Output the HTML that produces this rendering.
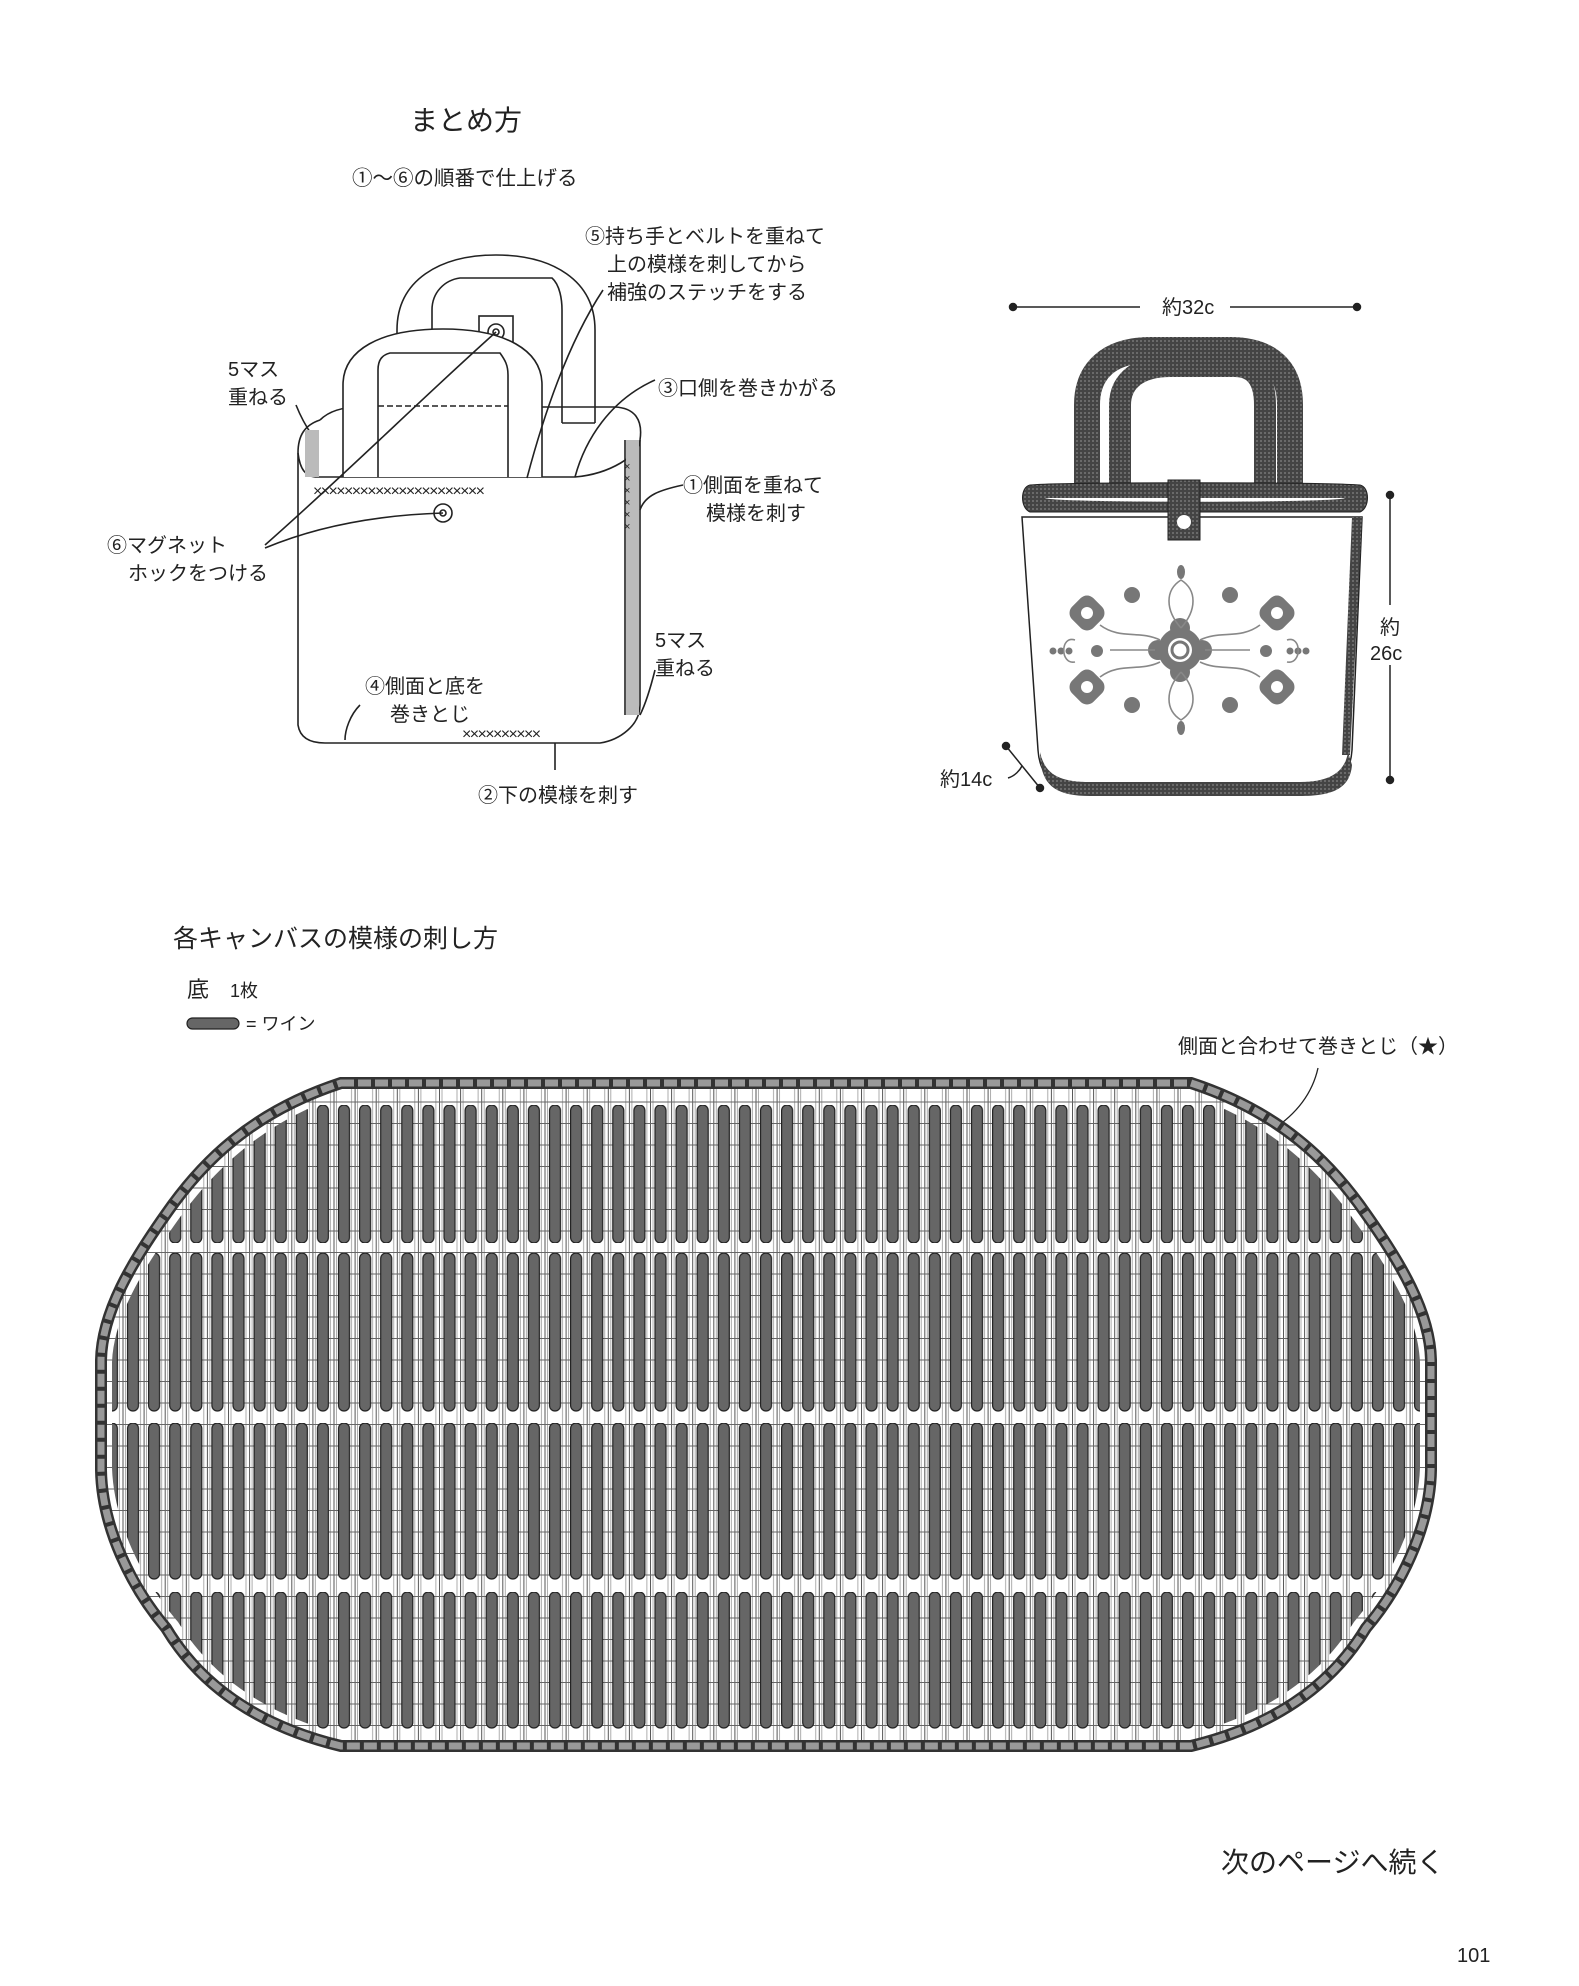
<!DOCTYPE html>
<html><head><meta charset="utf-8"><style>
html,body{margin:0;padding:0;background:#fff;}
svg{display:block;}
text{font-family:"Liberation Sans","Noto Sans CJK JP",sans-serif;fill:#222;}
</style></head><body>
<svg width="1579" height="1986" viewBox="0 0 1579 1986" xmlns="http://www.w3.org/2000/svg">
<defs>
<pattern id="g" patternUnits="userSpaceOnUse" x="333.5" y="1080" width="21.1" height="21.5">
<rect width="21.1" height="21.5" fill="#fff"/>
<line x1="0.5" y1="0" x2="0.5" y2="21.5" stroke="#555" stroke-width="1"/>
<line x1="3" y1="0" x2="3" y2="21.5" stroke="#999" stroke-width="0.8"/>
<line x1="18" y1="0" x2="18" y2="21.5" stroke="#999" stroke-width="0.8"/>
<line x1="0" y1="0.5" x2="21.1" y2="0.5" stroke="#666" stroke-width="1"/>
</pattern>
<pattern id="b1" patternUnits="userSpaceOnUse" x="333.5" y="1105" width="21.1" height="700"><rect x="5" y="0" width="11" height="138" rx="5.5" fill="#666" stroke="#222" stroke-width="1.2"/></pattern>
<pattern id="b2" patternUnits="userSpaceOnUse" x="333.5" y="1253" width="21.1" height="700"><rect x="5" y="0" width="11" height="158" rx="5.5" fill="#666" stroke="#222" stroke-width="1.2"/></pattern>
<pattern id="b3" patternUnits="userSpaceOnUse" x="333.5" y="1423" width="21.1" height="700"><rect x="5" y="0" width="11" height="156" rx="5.5" fill="#666" stroke="#222" stroke-width="1.2"/></pattern>
<pattern id="b4" patternUnits="userSpaceOnUse" x="333.5" y="1592" width="21.1" height="700"><rect x="5" y="0" width="11" height="136" rx="5.5" fill="#666" stroke="#222" stroke-width="1.2"/></pattern>
<clipPath id="outer"><path d="M341,1080 L1191,1080 C1282,1110 1332,1160 1368,1212 C1402,1260 1432,1310 1434,1360 L1434,1470 C1432,1530 1402,1590 1368,1630 C1332,1690 1272,1730 1191,1749 L341,1749 C260,1730 200,1690 164,1630 C130,1590 100,1530 98,1470 L98,1360 C100,1310 130,1260 164,1212 C200,1160 250,1110 341,1080 Z"/></clipPath>
<clipPath id="inner"><path d="M345,1094 L1187,1094 C1270,1122 1318,1170 1354,1220 C1388,1268 1418,1315 1420,1362 L1420,1468 C1418,1525 1388,1582 1354,1622 C1318,1680 1262,1716 1187,1735 L345,1735 C270,1716 214,1680 178,1622 C144,1582 114,1525 112,1468 L112,1362 C114,1315 144,1268 178,1220 C214,1170 262,1122 345,1094 Z"/></clipPath>
<pattern id="dk" patternUnits="userSpaceOnUse" width="4" height="4"><rect width="4" height="4" fill="#444"/><rect width="2" height="2" fill="#6a6a6a"/></pattern>
</defs>

<text x="410" y="130" font-size="28">まとめ方</text>
<text x="352" y="185" font-size="20.5">①〜⑥の順番で仕上げる</text>

<g fill="none" stroke="#222" stroke-width="1.6">
<path d="M397,423 L397,330 C397,280 440,255 496,255 C552,255 595,280 595,330 L595,423"/>
<path d="M432,423 L432,310 C432,292 445,280 460,278 L552,278 C560,285 562,300 562,310 L562,423"/>
<path d="M397,423 L432,423 M562,423 L595,423"/>
<rect x="479" y="316" width="34" height="107" fill="#fff"/>
<circle cx="496" cy="332" r="8"/><circle cx="496" cy="332" r="3"/>
<path d="M320,420 C330,410 345,407 360,407 L615,407 C635,408 643,420 640,440"/>
<path d="M298,453 C298,435 305,425 320,420"/>
<path d="M315,477 L575,477 C610,474 640,455 640,440"/>
<path d="M298,453 C300,470 306,476 315,477"/>
<path d="M343,477 L343,385 C343,350 380,329 443,329 C505,329 542,350 542,385 L542,477" fill="#fff"/>
<path d="M378,477 L378,370 C378,360 382,355 390,353 L500,353 C505,360 508,365 508,375 L508,477"/>
<path d="M378,406 L508,406" stroke-dasharray="6 3"/>
<path d="M298,453 L298,725 C300,738 310,743 325,743 L600,743 C620,740 640,725 640,705 L640,440"/>
<path d="M625,440 L625,715"/>
<circle cx="443" cy="513" r="9"/><circle cx="443" cy="513" r="3"/>
<path d="M496,332 C420,400 350,470 265,545"/>
<path d="M443,513 C380,515 320,525 265,548"/>
<path d="M603,290 C570,340 545,410 527,478"/>
<path d="M655,380 C610,400 585,440 575,477"/>
<path d="M683,485 C660,490 645,495 640,510"/>
<path d="M296,405 C300,415 305,425 312,435"/>
<path d="M655,670 C650,690 645,705 640,715"/>
<path d="M360,705 C350,715 345,730 345,740"/>
<path d="M555,743 L555,770"/>
</g>
<rect x="305" y="430" width="14" height="47" fill="#bbb"/>
<rect x="626" y="440" width="13" height="275" fill="#bbb"/>
<text x="313" y="496" font-size="16" fill="#333" letter-spacing="-1.6">××××××××××××××××××××××</text>
<text x="462" y="739" font-size="16" fill="#333" letter-spacing="-1.6">××××××××××</text>
<g font-size="11" fill="#333"><text x="624" y="470">×</text><text x="624" y="482">×</text><text x="624" y="494">×</text><text x="624" y="506">×</text><text x="624" y="518">×</text><text x="624" y="530">×</text></g>

<g font-size="20">
<text x="585" y="243">⑤持ち手とベルトを重ねて</text>
<text x="607" y="271">上の模様を刺してから</text>
<text x="607" y="299">補強のステッチをする</text>
<text x="228" y="376">5マス</text>
<text x="228" y="404">重ねる</text>
<text x="658" y="395">③口側を巻きかがる</text>
<text x="683" y="492">①側面を重ねて</text>
<text x="706" y="520">模様を刺す</text>
<text x="107" y="552">⑥マグネット</text>
<text x="128" y="580">ホックをつける</text>
<text x="655" y="647">5マス</text>
<text x="655" y="675">重ねる</text>
<text x="365" y="693">④側面と底を</text>
<text x="390" y="721">巻きとじ</text>
<text x="478" y="802">②下の模様を刺す</text>
</g>

<g stroke="#222" stroke-width="1.5">
<line x1="1013" y1="307" x2="1140" y2="307"/><line x1="1230" y1="307" x2="1357" y2="307"/>
<circle cx="1013" cy="307" r="3.5" fill="#222"/><circle cx="1357" cy="307" r="3.5" fill="#222"/>
<line x1="1390" y1="495" x2="1390" y2="605"/><line x1="1390" y1="665" x2="1390" y2="780"/>
<circle cx="1390" cy="495" r="3.5" fill="#222"/><circle cx="1390" cy="780" r="3.5" fill="#222"/>
<line x1="1006" y1="746" x2="1040" y2="788"/>
<circle cx="1006" cy="746" r="3.5" fill="#222"/><circle cx="1040" cy="788" r="3.5" fill="#222"/>
<path d="M1008,778 C1015,776 1020,770 1022,766" fill="none"/>
</g>
<text x="1162" y="314" font-size="20">約32c</text>
<text x="1380" y="634" font-size="20">約</text>
<text x="1370" y="660" font-size="20">26c</text>
<text x="940" y="786" font-size="20">約14c</text>
<path d="M1087,490 L1087,405 C1087,370 1110,350 1150,350 L1230,350 C1270,350 1290,370 1290,405 L1290,490" fill="none" stroke="url(#dk)" stroke-width="26"/>
<path d="M1120,490 L1120,405 C1120,380 1140,366 1170,366 L1235,366 C1255,366 1265,380 1265,405 L1265,490" fill="none" stroke="url(#dk)" stroke-width="22"/>
<path d="M1022,517 L1038,750 C1040,780 1060,792 1090,792 L1300,792 C1335,792 1350,778 1352,750 L1362,517 Z" fill="#fff" stroke="#222" stroke-width="1.5"/>
<path d="M1040,752 C1045,775 1060,782 1090,782 L1300,782 C1330,782 1345,772 1348,752 L1352,765 C1350,790 1330,796 1300,796 L1090,796 C1055,796 1040,785 1040,752 Z" fill="url(#dk)"/>
<path d="M1352,517 L1362,517 L1350,755 L1342,755 Z" fill="url(#dk)"/>
<path d="M1030,485 C1020,487 1020,508 1030,512 L1360,512 C1370,508 1370,487 1360,485 C1320,482 1060,482 1030,485 Z" fill="url(#dk)" stroke="#222"/>
<path d="M1045,498 L1345,498 C1340,503 1050,503 1045,498 Z" fill="#fff"/>
<rect x="1168" y="480" width="32" height="60" fill="url(#dk)" stroke="#222"/>
<circle cx="1184" cy="522" r="7" fill="#fff"/>
<g fill="#777" stroke="none">
<circle cx="1180" cy="650" r="22"/><circle cx="1180" cy="650" r="12" fill="#fff"/><circle cx="1180" cy="650" r="8" fill="none" stroke="#777" stroke-width="3"/>
<circle cx="1180" cy="628" r="10"/><circle cx="1180" cy="672" r="10"/><circle cx="1158" cy="650" r="10"/><circle cx="1202" cy="650" r="10"/>
<rect x="1072" y="598" width="30" height="30" rx="9" transform="rotate(45 1087 613)"/>
<rect x="1262" y="598" width="30" height="30" rx="9" transform="rotate(45 1277 613)"/>
<rect x="1072" y="672" width="30" height="30" rx="9" transform="rotate(45 1087 687)"/>
<rect x="1262" y="672" width="30" height="30" rx="9" transform="rotate(45 1277 687)"/>
<circle cx="1087" cy="613" r="6" fill="#fff"/><circle cx="1277" cy="613" r="6" fill="#fff"/><circle cx="1087" cy="687" r="6" fill="#fff"/><circle cx="1277" cy="687" r="6" fill="#fff"/>
<circle cx="1132" cy="595" r="8"/><circle cx="1230" cy="595" r="8"/><circle cx="1132" cy="705" r="8"/><circle cx="1230" cy="705" r="8"/>
<circle cx="1097" cy="651" r="6"/><circle cx="1266" cy="651" r="6"/>
<circle cx="1053" cy="651" r="3.5"/><circle cx="1061" cy="651" r="3.5"/><circle cx="1069" cy="651" r="3.5"/>
<circle cx="1290" cy="651" r="3.5"/><circle cx="1298" cy="651" r="3.5"/><circle cx="1306" cy="651" r="3.5"/>
<ellipse cx="1181" cy="572" rx="4" ry="7"/><ellipse cx="1181" cy="728" rx="4" ry="7"/>
</g>
<g fill="none" stroke="#888" stroke-width="1.6">
<line x1="1110" y1="650" x2="1155" y2="650"/><line x1="1205" y1="650" x2="1250" y2="650"/>
<path d="M1100,625 C1120,640 1140,630 1160,640"/><path d="M1260,625 C1240,640 1220,630 1200,640"/>
<path d="M1100,677 C1120,662 1140,672 1160,662"/><path d="M1260,677 C1240,662 1220,672 1200,662"/>
<path d="M1181,628 C1165,610 1165,590 1181,580 C1197,590 1197,610 1181,628"/>
<path d="M1181,672 C1165,690 1165,710 1181,720 C1197,710 1197,690 1181,672"/>
<path d="M1075,640 C1060,635 1060,665 1075,662"/><path d="M1287,640 C1302,635 1302,665 1287,662"/>
</g>

<text x="173" y="947" font-size="25">各キャンバスの模様の刺し方</text>
<text x="187" y="997" font-size="22">底</text><text x="230" y="997" font-size="18">1枚</text>
<rect x="187" y="1018" width="52" height="11" rx="5.5" fill="#666" stroke="#222" stroke-width="1.2"/>
<text x="246" y="1030" font-size="18">= ワイン</text>
<text x="1178" y="1053" font-size="20">側面と合わせて巻きとじ（★）</text>
<path d="M1318,1068 C1312,1095 1295,1115 1272,1130" fill="none" stroke="#222" stroke-width="1.3"/>

<rect x="90" y="1070" width="1355" height="690" fill="url(#g)" clip-path="url(#outer)"/>
<g clip-path="url(#inner)">
<rect x="90" y="1105" width="1355" height="138" fill="url(#b1)"/>
<rect x="90" y="1253" width="1355" height="160" fill="url(#b2)"/>
<rect x="90" y="1423" width="1355" height="158" fill="url(#b3)"/>
<rect x="90" y="1592" width="1355" height="138" fill="url(#b4)"/>
</g>
<path id="ov" d="M341,1083 L1191,1083 C1280,1112 1330,1162 1366,1214 C1400,1262 1430,1312 1431,1360 L1431,1470 C1430,1528 1400,1588 1366,1628 C1330,1688 1270,1727 1191,1746 L341,1746 C262,1727 202,1688 166,1628 C132,1588 102,1528 101,1470 L101,1360 C102,1312 132,1262 166,1214 C202,1162 252,1112 341,1083 Z" fill="none" stroke="#333" stroke-width="12"/>
<path d="M341,1083 L1191,1083 C1280,1112 1330,1162 1366,1214 C1400,1262 1430,1312 1431,1360 L1431,1470 C1430,1528 1400,1588 1366,1628 C1330,1688 1270,1727 1191,1746 L341,1746 C262,1727 202,1688 166,1628 C132,1588 102,1528 101,1470 L101,1360 C102,1312 132,1262 166,1214 C202,1162 252,1112 341,1083 Z" fill="none" stroke="#999" stroke-width="7" stroke-dasharray="13 4"/>

<text x="1221" y="1872" font-size="28">次のページへ続く</text>
<text x="1457" y="1962" font-size="20">101</text>
</svg>
</body></html>
